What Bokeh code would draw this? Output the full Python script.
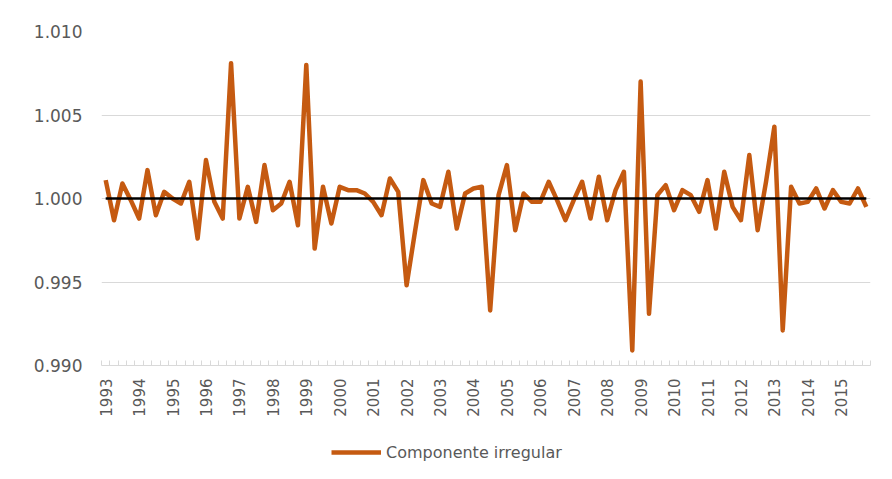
from bokeh.plotting import figure
from bokeh.layouts import column
from bokeh.models import Range1d, FixedTicker, Legend, LegendItem
from bokeh.embed import file_html
from bokeh.resources import INLINE

# ---- data ----
years = [str(y) for y in range(1993, 2016)]
quarters_per_year = 4
irregular = [
    1.0011, 0.9987, 1.0009, 0.9999,   # 1993
    0.9988, 1.0017, 0.9990, 1.0004,   # 1994
    1.0000, 0.9997, 1.0010, 0.9976,   # 1995
    1.0023, 0.9998, 0.9988, 1.0081,   # 1996
    0.9988, 1.0007, 0.9986, 1.0020,   # 1997
    0.9993, 0.9997, 1.0010, 0.9984,   # 1998
    1.0080, 0.9970, 1.0007, 0.9985,   # 1999
    1.0007, 1.0005, 1.0005, 1.0003,   # 2000
    0.9998, 0.9990, 1.0012, 1.0004,   # 2001
    0.9948, 0.9980, 1.0011, 0.9997,   # 2002
    0.9995, 1.0016, 0.9982, 1.0003,   # 2003
    1.0006, 1.0007, 0.9933, 1.0002,   # 2004
    1.0020, 0.9981, 1.0003, 0.9998,   # 2005
    0.9998, 1.0010, 0.9999, 0.9987,   # 2006
    0.9999, 1.0010, 0.9988, 1.0013,   # 2007
    0.9987, 1.0005, 1.0016, 0.9909,   # 2008
    1.0070, 0.9931, 1.0002, 1.0008,   # 2009
    0.9993, 1.0005, 1.0002, 0.9992,   # 2010
    1.0011, 0.9982, 1.0016, 0.9995,   # 2011
    0.9987, 1.0026, 0.9981, 1.0010,   # 2012
    1.0043, 0.9921, 1.0007, 0.9997,   # 2013
    0.9998, 1.0006, 0.9994, 1.0005,   # 2014
    0.9998, 0.9997, 1.0006, 0.9995,   # 2015
]
baseline = 1.000
y_ticks = [0.990, 0.995, 1.000, 1.005, 1.010]
series_name = "Componente irregular"

idx = list(range(len(irregular)))
n = len(irregular)

ORANGE = "#C55A11"
GRAY_TXT = "#595959"
GRID = "#d9d9d9"
FONT = "DejaVu Sans"
W = 880

p = figure(width=W, height=420, output_backend="svg", toolbar_location=None,
           x_range=Range1d(-0.5, n - 0.5), y_range=Range1d(y_ticks[0], y_ticks[-1]),
           min_border_left=101, min_border_right=10, min_border_top=31, min_border_bottom=55)
p.outline_line_color = None
p.background_fill_color = "white"
p.border_fill_color = "white"

# y axis
p.yaxis.ticker = FixedTicker(ticks=y_ticks)
p.yaxis.major_label_overrides = {t: f"{t:.3f}" for t in y_ticks}
p.yaxis.axis_line_color = None
p.yaxis.major_tick_line_color = None
p.yaxis.minor_tick_line_color = None
p.yaxis.major_tick_in = 0
p.yaxis.major_tick_out = 0
p.yaxis.major_label_standoff = 19
p.yaxis.major_label_text_font = FONT
p.yaxis.major_label_text_font_size = "17px"
p.yaxis.major_label_text_color = GRAY_TXT
p.ygrid.grid_line_color = GRID
p.ygrid.ticker = FixedTicker(ticks=y_ticks)
p.xgrid.grid_line_color = None

# x axis
label_pos = [i * quarters_per_year for i in range(len(years))]
p.xaxis.ticker = FixedTicker(ticks=label_pos,
                             minor_ticks=[k - 0.5 for k in range(n + 1)])
p.xaxis.major_label_overrides = {pos: yr for pos, yr in zip(label_pos, years)}
p.xaxis.major_label_orientation = 3.14159265 / 2
p.xaxis.axis_line_color = GRID
p.xaxis.major_tick_line_color = None
p.xaxis.major_tick_in = 0
p.xaxis.major_tick_out = 0
p.xaxis.minor_tick_line_color = GRID
p.xaxis.minor_tick_in = 5
p.xaxis.minor_tick_out = 0
p.xaxis.major_label_standoff = 13
p.xaxis.major_label_text_font = FONT
p.xaxis.major_label_text_font_size = "15px"
p.xaxis.major_label_text_color = GRAY_TXT

# series
line_style = dict(line_color=ORANGE, line_width=4.5, line_join="round")
r = p.line(idx, irregular, **line_style)
p.line([idx[0], idx[-1]], [baseline, baseline], line_color="black", line_width=2.5)

# legend strip below the chart (its frame is aligned with the chart's frame)
lf = figure(width=W, height=52, output_backend="svg", toolbar_location=None,
            x_range=Range1d(0, 1), y_range=Range1d(0, 1), min_border=0)
lf.axis.visible = False
lf.grid.visible = False
lf.outline_line_color = None
# single-point line: draws nothing itself, only provides the legend swatch style
lr = lf.line([idx[0]], [baseline], **line_style)
legend = Legend(items=[LegendItem(label=series_name, renderers=[lr])],
                location=(230, 10), orientation="horizontal",
                glyph_width=50, glyph_height=20, label_standoff=5,
                padding=0, margin=0, border_line_color=None,
                background_fill_alpha=0,
                label_text_font=FONT, label_text_font_size="16px",
                label_text_color=GRAY_TXT)
lf.add_layout(legend, "center")

layout = column(p, lf, spacing=0)
open("out.html", "w").write(file_html(layout, INLINE))
